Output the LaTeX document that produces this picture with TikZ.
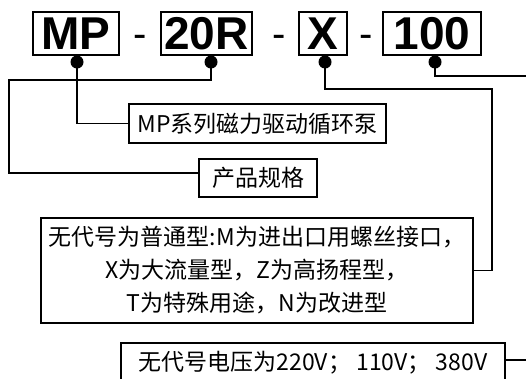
\documentclass[tikz,border=0pt]{standalone}
\usepackage{fontspec}
\setmainfont{Noto Sans CJK SC}
\newfontfamily\codefont{Liberation Sans}
\usetikzlibrary{positioning}

\tikzset{
  codebox/.style={draw, line width=1.6pt, font=\codefont\bfseries\fontsize{46}{46}\selectfont, inner sep=0pt, text height=32pt, text depth=0pt, minimum height=43pt},
  hyphenmark/.style={font=\codefont\fontsize{40}{40}\selectfont, inner sep=0pt, text height=32pt, text depth=0pt},
  infobox/.style={draw, line width=1.4pt, font=\fontsize{23}{33}\selectfont, inner sep=0pt, align=center},
  dot/.style={circle, fill=black, inner sep=0pt, minimum size=13pt},
  link/.style={line width=1.3pt},
}

\begin{document}
\begin{tikzpicture}[x=1pt, y=-1pt]
	\useasboundingbox (0,0) rectangle (526,378);

	% model code
	\node (cMP)[codebox, minimum width=86pt] at (76,33.5) {MP};
	\node (c20R)[codebox, minimum width=91pt] at (206.5,33.5) {20R};
	\node (cX)[codebox, minimum width=48pt] at (323,33.5) {X};
	\node (c100)[codebox, minimum width=98pt] at (432,33.5) {100};

	\node (dash1)[hyphenmark] at (140,31) {-};
	\node (dash2)[hyphenmark] at (279,31) {-};
	\node (dash3)[hyphenmark] at (366,31) {-};

	% explanations
	\node (series)[infobox, minimum width=257pt, minimum height=39pt] at (257.5,123.5) {MP系列磁力驱动循环泵};
	\node (spec)[infobox, minimum width=118pt, minimum height=38pt] at (258,178) {产品规格};
	\node (variant)[infobox, minimum width=432pt, minimum height=105pt] at (257,270.5) {无代号为普通型:M为进出口用螺丝接口，\\X为大流量型，Z为高扬程型，\\T为特殊用途，N为改进型};
	\node (volt)[infobox, minimum width=384pt, minimum height=40pt] at (313,363) {无代号电压为220V； 110V； 380V};

	% dot positions
	\coordinate (pMP) at (77,62);
	\coordinate (p20R) at (211,62);
	\coordinate (pX) at (325,62);
	\coordinate (p100) at (435,62);

	% bends
	\coordinate (bendSpec) at (9,80);
	\coordinate (bendX) at (492,89);
	\coordinate (out100) at (540,76);
	\coordinate (outVolt) at (540,360);

	% lines
	\draw[link] (pMP) |- (series.west);
	\draw[link] (p20R) |- (bendSpec) |- ([yshift=5pt]spec.west);
	\draw[link] (pX) |- (bendX) |- (variant.east);
	\draw[link] (p100) |- (out100);
	\draw[link] (volt.east |- outVolt) -- (outVolt);

	% dots
	\node (dotMP)[dot] at (pMP) {};
	\node (dot20R)[dot] at (p20R) {};
	\node (dotX)[dot] at (pX) {};
	\node (dot100)[dot] at (p100) {};

\end{tikzpicture}
\end{document}
